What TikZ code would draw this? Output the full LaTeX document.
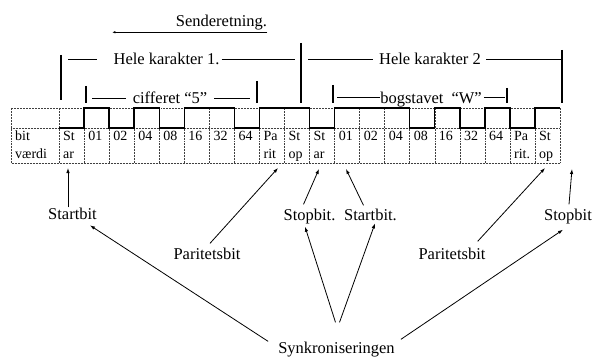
\documentclass[tikz,border=0pt]{standalone}
\usepackage{fontspec}
\setmainfont{Liberation Serif}
\usetikzlibrary{arrows.meta}

\begin{document}
\begin{tikzpicture}[
  x=1pt,y=-1pt,
  font=\fontsize{16.5}{18}\selectfont,
  lbl/.style={inner sep=0pt,anchor=base},
  cell/.style={inner sep=0pt,anchor=base west,font=\fontsize{14}{15}\selectfont},
  grid/.style={densely dotted,line width=0.5pt,black!75},
  wave/.style={line width=1.4pt,line join=miter},
  rule/.style={line width=0.8pt},
  bar/.style={line width=1.2pt},
  arrow/.style={-{Latex[length=5pt,width=3.5pt]},line width=0.8pt}
]
\useasboundingbox (0,0) rectangle (593,358);

\draw[grid] (11,108) rectangle (560,163);
\draw[grid] (11,128) -- (560,128);
\foreach \i in {0,...,19} \draw[grid] (59+25.05*\i,108) -- (59+25.05*\i,163);
\node[cell] (bitA) at (15,140) {bit};
\node[cell] (bitB) at (15,158) {værdi};
\foreach \a/\b [count=\i from 0] in {St/ar,01/,02/,04/,08/,16/,32/,64/,Pa/rit,St/op,St/ar,01/,02/,04/,08/,16/,32/,64/,Pa/rit.,St/op}{
  \node[cell] (top\i) at (63+25.05*\i,140) {\a};
  \node[cell] (bot\i) at (63+25.05*\i,158) {\b};
}
\draw[wave] (59,128) \foreach \v [count=\i from 0] in {0,1,0,1,0,1,1,0,1,1,0,1,1,1,0,1,0,1,0,1} { -- (59+25.05*\i,128-20*\v) -- (84.05+25.05*\i,128-20*\v) };

\node[lbl] (send) at (221.5,26.5) {Senderetning.};
\draw[-{Latex[length=3pt,width=2.5pt]},line width=0.7pt] ([yshift=-2pt]send.south east) -- ++(-155,0);

\node[lbl] (char1) at (166.5,65) {Hele karakter 1.};
\node[lbl] (char2) at (430,65) {Hele karakter 2};
\node[lbl] (digit) at (170,104) {cifferet “5”};
\node[lbl] (letter) at (431,103.5) {bogstavet\hspace{8pt}“W”};

\coordinate (b1) at (61,55);
\coordinate (b2) at (301,43);
\coordinate (b3) at (562,50);
\coordinate (d1) at (86,86);
\coordinate (d2) at (257,81);
\coordinate (l1) at (333,85);
\coordinate (l2) at (507,88);
\draw[bar] (b1) -- ++(0,45);
\draw[bar] (b2) -- ++(0,60);
\draw[bar] (b3) -- ++(0,53);
\draw[bar] (d1) -- ++(0,17);
\draw[bar] (d2) -- ++(0,22);
\draw[bar] (l1) -- ++(0,18);
\draw[bar] (l2) -- ++(0,15);

\draw[rule] ([xshift=7pt]b1 |- char1.west) -- ([xshift=-16pt]char1.west);
\draw[rule] ([xshift=2pt]char1.east) -- ([xshift=-6pt]b2 |- char1.east);
\draw[rule] ([xshift=7pt]b2 |- char2.west) -- ([xshift=-6pt]char2.west);
\draw[rule] ([xshift=5pt]char2.east) -- (b3 |- char2.east);
\draw[rule] ([xshift=6pt]d1 |- digit.west) -- ([xshift=-7pt]digit.west);
\draw[rule] ([xshift=7pt]digit.east) -- ([xshift=-7pt]d2 |- digit.east);
\draw[rule] ([xshift=4pt,yshift=2.5pt]l1 |- letter.west) -- ([yshift=2.5pt]letter.west);
\draw[rule] ([xshift=2pt,yshift=2.5pt]letter.east) -- ([xshift=-2pt,yshift=2.5pt]l2 |- letter.east);

\node[lbl] (startA) at (72.5,219) {Startbit};
\node[lbl] (parA) at (207,259) {Paritetsbit};
\node[lbl] (stopA) at (309.5,220) {Stopbit.};
\node[lbl] (startB) at (370.5,220) {Startbit.};
\node[lbl] (parB) at (452,259) {Paritetsbit};
\node[lbl] (stopB) at (568,220) {Stopbit};
\node[lbl] (sync) at (336.5,353) {Synkroniseringen};

\coordinate (tStartA) at (68,168);
\coordinate (tParA) at (278,168);
\coordinate (tStopA) at (319,169);
\coordinate (tStartB) at (346,169);
\coordinate (tParB) at (545,168);
\coordinate (tStopB) at (572,169);
\draw[arrow] ([xshift=-4.5pt]startA.north) -- (tStartA);
\draw[arrow] ([shift={(3pt,4pt)}]parA.north) -- (tParA);
\draw[arrow] ([shift={(-6pt,4pt)}]stopA.north) -- (tStopA);
\draw[arrow] ([shift={(-7pt,3pt)}]startB.north) -- (tStartB);
\draw[arrow] ([shift={(-8pt,6pt)}]parB.north east) -- (tParB);
\draw[arrow] ([shift={(1pt,4pt)}]stopB.north) -- (tStopB);
\draw[arrow] ([xshift=-10pt]sync.north west) -- ([shift={(-7pt,-6pt)}]startA.south east);
\draw[arrow] ([shift={(-1pt,19pt)}]sync.north) -- ([shift={(-4.5pt,-3pt)}]stopA.south);
\draw[arrow] ([shift={(3pt,19pt)}]sync.north) -- ([shift={(4.5pt,-3pt)}]startB.south);
\draw[arrow] ([shift={(6pt,2pt)}]sync.north east) -- ([shift={(-5pt,-6pt)}]stopB.south);
\end{tikzpicture}
\end{document}
